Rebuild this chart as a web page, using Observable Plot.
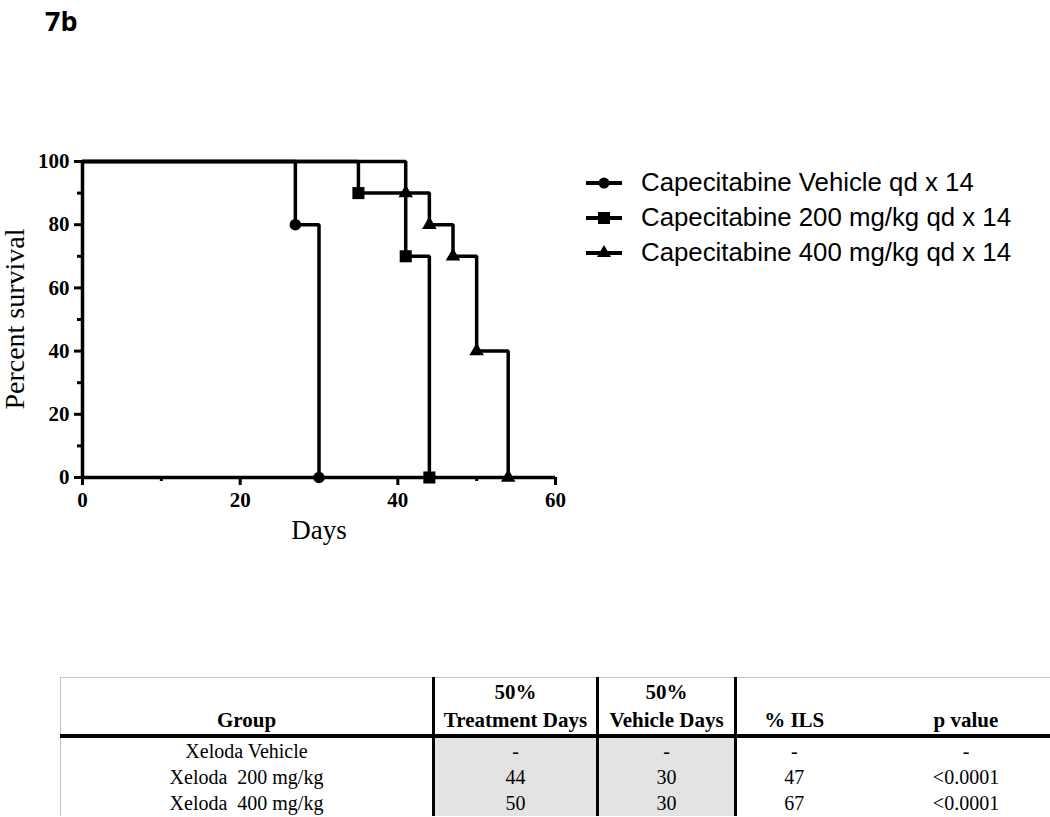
<!DOCTYPE html>
<html>
<head>
<meta charset="utf-8">
<script src="https://cdn.jsdelivr.net/npm/d3@7"></script>
<script src="https://cdn.jsdelivr.net/npm/@observablehq/plot@0.6"></script>
<style>
  html, body { margin: 0; padding: 0; background: #fff; }
  #page { position: relative; width: 1050px; height: 817px; overflow: hidden; background: #fff; }
  #fig-title { position: absolute; left: 45px; top: 2px; font-family: "Open Sans", sans-serif; font-weight: bold; font-size: 27px; color: #000; }
  #chart { position: absolute; left: 0; top: 130px; }
  #ylabel { position: absolute; left: 15px; top: 319px; transform: translate(-50%, -50%) rotate(-90deg); white-space: nowrap;
            font-family: "Liberation Serif", "Times New Roman", serif; font-size: 28px; color: #000; line-height: 1; }
  #legend { position: absolute; left: 584px; top: 165px; font-family: "Liberation Sans", Arial, sans-serif; font-size: 25.8px; color: #000; }
  .lg-row { display: flex; align-items: center; height: 35px; }
  .lg-row svg { width: 40px; height: 24px; margin-right: 17px; }
  #tbl { position: absolute; left: 60px; top: 677px; border-collapse: collapse; table-layout: fixed; width: 1020px;
         font-family: "Liberation Serif", "Times New Roman", serif; color: #000; }
  #tbl th, #tbl td { padding: 0; text-align: center; white-space: pre; overflow: hidden; }
  #tbl thead th { height: 55px; vertical-align: bottom; font-size: 21px; font-weight: bold; line-height: 28px; padding-bottom: 0px;
                  border-top: 1px solid #c4c4c4; border-bottom: 4px solid #000; }
  #tbl tbody td { height: 26px; font-size: 20px; line-height: 26px; }
  #tbl .c1 { border-left: 1px solid #c4c4c4; }
  #tbl .vb { border-right: 3px solid #000; }
  #tbl tbody td.shade { background: #e3e3e3; }
</style>
</head>
<body>
<div id="page">
  <div id="fig-title">7b</div>
  <div id="chart"></div>
  <div id="ylabel">Percent survival</div>
  <div id="legend"></div>
  <table id="tbl"></table>
</div>
<script>
// ---- Survival data (Kaplan-Meier steps) ----
const seriesNames = ["Capecitabine Vehicle qd x 14", "Capecitabine 200 mg/kg qd x 14", "Capecitabine 400 mg/kg qd x 14"];
const seriesSymbols = ["circle", "square", "triangle"];
const vehicleDays = [0, 27, 30];
const vehicleSurvival = [100, 80, 0];
const dose200Days = [0, 35, 41, 44];
const dose200Survival = [100, 90, 70, 0];
const dose400Days = [0, 41, 44, 47, 50, 54];
const dose400Survival = [100, 90, 80, 70, 40, 0];

const xTicks = [0, 20, 40, 60];
const xMinorTicks = [10, 30, 50];
const yTicks = [0, 20, 40, 60, 80, 100];
const yMinorTicks = [10, 30, 50, 70, 90];

// ---- Table data ----
const tableHeader = [["Group"], ["50%", "Treatment Days"], ["50%", "Vehicle Days"], ["% ILS"], ["p value"]];
const tableGroups = ["Xeloda Vehicle", "Xeloda  200 mg/kg", "Xeloda  400 mg/kg"];
const treatmentDays50 = ["-", "44", "50"];
const vehicleDays50 = ["-", "30", "30"];
const ilsPercent = ["-", "47", "67"];
const pValues = ["-", "<0.0001", "<0.0001"];

// Build tidy table for Plot
const seriesDays = [vehicleDays, dose200Days, dose400Days];
const seriesSurv = [vehicleSurvival, dose200Survival, dose400Survival];
const rows = [];
seriesNames.forEach((name, i) => {
  seriesDays[i].forEach((d, j) => rows.push({series: name, idx: i, day: d, surv: seriesSurv[i][j], event: j > 0}));
});
const events = rows.filter(d => d.event);
const dotR = [5.8, 6.8, 5.4];

const chart = Plot.plot({
  width: 580,
  height: 420,
  marginLeft: 82,
  marginRight: 25,
  marginTop: 31,
  marginBottom: 73,
  style: { fontFamily: "Liberation Serif, 'Times New Roman', serif", fontSize: "21px", fontWeight: "bold", color: "#000", background: "transparent", overflow: "visible" },
  x: { domain: [0, 60] },
  y: { domain: [0, 100] },
  symbol: { domain: seriesNames, range: seriesSymbols },
  marks: [
    Plot.axisX({ ticks: xTicks, tickSize: 8, strokeWidth: 3, tickPadding: 7, label: null }),
    Plot.axisX({ ticks: xMinorTicks, tickSize: 4, strokeWidth: 3, tickFormat: () => "", label: null }),
    Plot.axisY({ ticks: yTicks, tickSize: 8, strokeWidth: 3, tickPadding: 5, label: null }),
    Plot.axisY({ ticks: yMinorTicks, tickSize: 5, strokeWidth: 3, tickFormat: () => "", label: null }),
    Plot.ruleY([0], { strokeWidth: 3.5, stroke: "#000" }),
    Plot.ruleX([0], { strokeWidth: 3.5, stroke: "#000" }),
    Plot.line(rows, { x: "day", y: "surv", z: "series", curve: "step-after", stroke: "#000", strokeWidth: 3.5, strokeLinejoin: "miter" }),
    ...seriesNames.map((name, i) => Plot.dot(events.filter(d => d.idx === i), { x: "day", y: "surv", symbol: "series", fill: "#000", stroke: "none", r: dotR[i] })),
    Plot.text(["Days"], { frameAnchor: "bottom", dy: 61, fontSize: 27, fontWeight: "normal", fill: "#000" })
  ]
});
document.getElementById("chart").appendChild(chart);

// ---- Legend ----
const legend = document.getElementById("legend");
const sym = d3.scaleOrdinal(seriesNames, [d3.symbolCircle, d3.symbolSquare, d3.symbolTriangle]);
const symSize = [95, 145, 85];
seriesNames.forEach((name, i) => {
  const row = document.createElement("div");
  row.className = "lg-row";
  const path = d3.symbol(sym(name), symSize[i])();
  row.innerHTML = `<svg viewBox="0 0 40 24"><line x1="2" x2="38" y1="12" y2="12" stroke="#000" stroke-width="4"/><path transform="translate(20,12)" d="${path}" fill="#000"/></svg><span>${name}</span>`;
  legend.appendChild(row);
});

// ---- Table ----
const tbl = document.getElementById("tbl");
const colW = [373, 164, 138, 116, 229];
tbl.innerHTML = `<colgroup>${colW.map(w => `<col style="width:${w}px">`).join("")}</colgroup>`;
const thead = document.createElement("thead");
const htr = document.createElement("tr");
tableHeader.forEach((lines, c) => {
  const th = document.createElement("th");
  th.textContent = lines.join("\n");
  if (c === 0) th.classList.add("c1");
  if (c <= 2) th.classList.add("vb");
  htr.appendChild(th);
});
thead.appendChild(htr);
tbl.appendChild(thead);
const tbody = document.createElement("tbody");
tableGroups.forEach((g, r) => {
  const tr = document.createElement("tr");
  [g, treatmentDays50[r], vehicleDays50[r], ilsPercent[r], pValues[r]].forEach((v, c) => {
    const td = document.createElement("td");
    td.textContent = v;
    if (c === 0) td.classList.add("c1");
    if (c <= 2) td.classList.add("vb");
    if (c === 1 || c === 2) td.classList.add("shade");
    tr.appendChild(td);
  });
  tbody.appendChild(tr);
});
tbl.appendChild(tbody);
</script>
</body>
</html>
